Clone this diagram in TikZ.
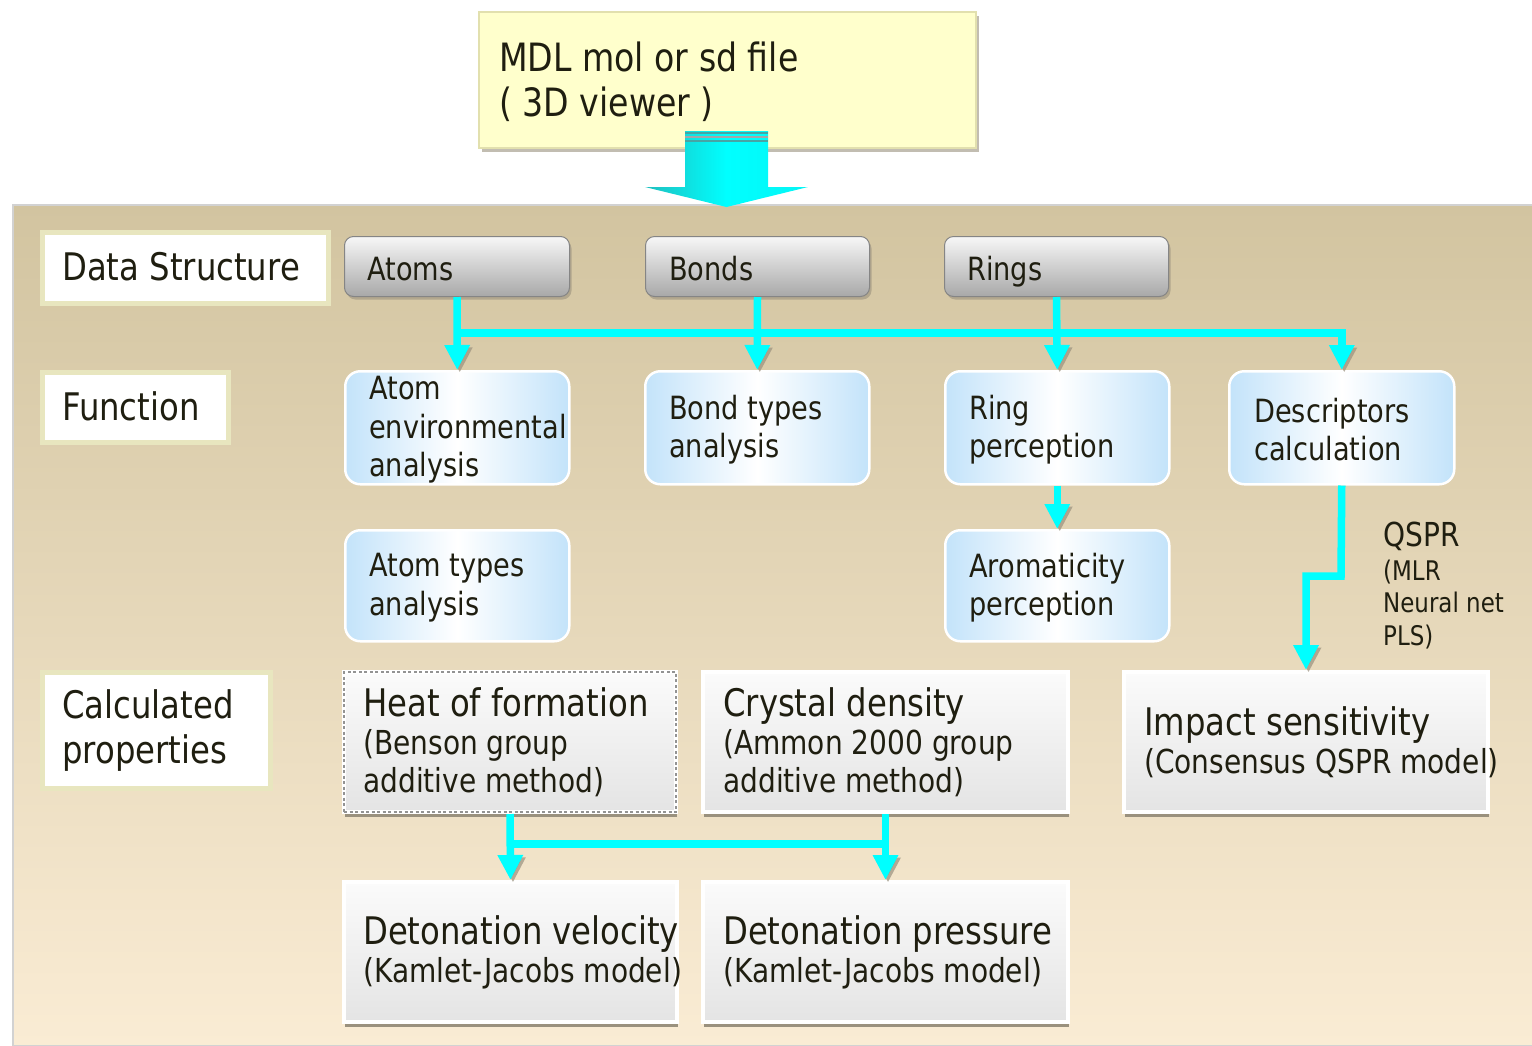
\documentclass[tikz,border=0pt]{standalone}
\usepackage{fontspec}
\setmainfont{DejaVu Sans}[FakeStretch=0.85]
\usetikzlibrary{arrows.meta,shadows,calc}
\definecolor{txt}{HTML}{1F1E10}
\definecolor{cy}{HTML}{00FFFF}
\definecolor{cydark}{HTML}{1FBFBF}
\definecolor{paneltop}{HTML}{D2C4A0}
\definecolor{panelbot}{HTML}{FAECD4}
\definecolor{lblborder}{HTML}{E8E6BF}
\definecolor{mdlfill}{HTML}{FFFFCC}
\definecolor{mdlborder}{HTML}{E2E0AE}
\definecolor{btntop}{HTML}{F7F7F7}
\definecolor{btnbot}{HTML}{A8A8A8}
\definecolor{btnborder}{HTML}{858585}
\definecolor{fnblue}{HTML}{C3E3FA}
\definecolor{proptop}{HTML}{FBFBFB}
\definecolor{propbot}{HTML}{E4E4E4}
\definecolor{shadowc}{HTML}{9A917E}
\newcommand\fs[2]{\fontsize{#1}{#2}\selectfont}
\begin{document}
\begin{tikzpicture}[x=1pt,y=-1pt,
  lbl/.style={draw=lblborder, line width=5pt, fill=white, inner sep=0pt, anchor=north west},
  mdl/.style={draw=mdlborder, line width=2pt, fill=mdlfill, inner sep=0pt, anchor=north west,
    drop shadow={shadow xshift=3pt, shadow yshift=-4pt, fill=shadowc, opacity=.6}},
  btn/.style={draw=btnborder, line width=1pt, rounded corners=9pt, top color=btntop, bottom color=btnbot,
    inner sep=0pt, anchor=north west,
    drop shadow={shadow xshift=2pt, shadow yshift=-3pt, fill=shadowc, opacity=.6}},
  fn/.style={draw=white, line width=2.5pt, rounded corners=15pt, left color=fnblue, right color=fnblue,
    middle color=white, inner sep=0pt, anchor=north west},
  prop/.style={draw=white, line width=4pt, top color=proptop, bottom color=propbot, inner sep=0pt,
    anchor=north west, drop shadow={shadow xshift=0.5pt, shadow yshift=-5pt, fill=shadowc, opacity=1}},
  dashedprop/.style={prop, postaction={draw=gray!85, line width=2pt, dash pattern=on 3pt off 2.5pt}},
  t/.style={text=txt, inner sep=0pt, align=left, anchor=west},
  lt/.style={t, font=\fs{38}{45}},
  bt/.style={t, font=\fs{32}{38}, anchor=base west},
  ft/.style={t, font=\fs{32}{38.5}},
  pt/.style={t, font=\fs{33}{38}},
  cyl/.style={draw=cy, line width=7.5pt,
    preaction={draw=shadowc, opacity=.7, transform canvas={shift={(2.5pt,-2.5pt)}}}},
  cyarrow/.style={cyl, -{Triangle[width=24pt,length=25pt]}}
]
\useasboundingbox (0,0) rectangle (1532,1045);
\fill[white] (0,0) rectangle (1532,1045);

% background panel
\path[draw=gray!35, line width=2pt, top color=paneltop, bottom color=panelbot] (13,205) rectangle (1533,1046);

% source box and big arrow
\node[mdl, minimum width=497pt, minimum height=136pt] (mdl) at (478,11) {};
\node[t, font=\fs{39}{45}] (mdlt) at ($(mdl.west)+(21,2)$) {MDL mol or sd file\\( 3D viewer )};
\path[left color=cydark, right color=cy!85!cydark, middle color=cy]
  (685,131) -- (768,131) -- (768,187) -- (808,187) -- (726.5,207) -- (645,187) -- (685,187) -- cycle;
\draw[cydark!60!gray, line width=1.2pt] (685,133) -- (768,133);
\draw[gray!70, line width=1.2pt] (685,137) -- (768,137);
\draw[cydark!60!gray, line width=1.2pt] (685,141) -- (768,141);

% row labels
\node[lbl, minimum width=286pt, minimum height=71pt] (lds) at (40,230) {};
\node[lt] (ldst) at ($(lds.west)+(22,-1)$) {Data Structure};
\node[lbl, minimum width=186pt, minimum height=70pt] (lfn) at (40,370) {};
\node[lt] (lfnt) at ($(lfn.west)+(22,-1)$) {Function};
\node[lbl, minimum width=228pt, minimum height=116pt] (lcp) at (40,670) {};
\node[lt] (lcpt) at ($(lcp.west)+(22,0)$) {Calculated\\properties};

% data structure buttons
\node[btn, minimum width=225pt, minimum height=60pt] (atoms) at (344,236) {};
\node[bt] (atomst) at ($(atoms.west)+(23,14)$) {Atoms};
\node[btn, minimum width=224pt, minimum height=60pt] (bonds) at (645,236) {};
\node[bt] (bondst) at ($(bonds.west)+(24,14)$) {Bonds};
\node[btn, minimum width=224pt, minimum height=60pt] (rings) at (944,236) {};
\node[bt] (ringst) at ($(rings.west)+(23,14)$) {Rings};

% function boxes
\node[fn, minimum width=224pt, minimum height=113pt] (atomenv) at (344,370) {};
\node[ft] (atomenvt) at ($(atomenv.west)+(25,2)$) {Atom\\environmental\\analysis};
\node[fn, minimum width=224pt, minimum height=113pt] (bondt) at (644,370) {};
\node[ft] (bondtt) at ($(bondt.west)+(25,2)$) {Bond types\\analysis};
\node[fn, minimum width=224pt, minimum height=113pt] (ringp) at (944,370) {};
\node[ft] (ringpt) at ($(ringp.west)+(25,2)$) {Ring\\perception};
\node[fn, minimum width=225pt, minimum height=113pt] (desc) at (1228,370) {};
\node[ft] (desct) at ($(desc.west)+(26,2)$) {Descriptors\\calculation};
\node[fn, minimum width=224pt, minimum height=111pt] (atomt) at (344,529) {};
\node[ft] (atomtt) at ($(atomt.west)+(25,2)$) {Atom types\\analysis};
\node[fn, minimum width=224pt, minimum height=111pt] (arom) at (944,529) {};
\node[ft] (aromt) at ($(arom.west)+(25,2)$) {Aromaticity\\perception};

% property boxes
\node[dashedprop, minimum width=332pt, minimum height=140pt] (heat) at (342,670) {};
\node[pt] (heatt) at ($(heat.west)+(21,0)$) {\fs{38}{41}Heat of formation\\(Benson group\\additive method)};
\node[prop, minimum width=365pt, minimum height=140pt] (cryst) at (701,670) {};
\node[pt] (crystt) at ($(cryst.west)+(22,0)$) {\fs{38}{41}Crystal density\\(Ammon 2000 group\\additive method)};
\node[prop, minimum width=364pt, minimum height=140pt] (impact) at (1122,670) {};
\node[pt] (impactt) at ($(impact.west)+(22,0)$) {\fs{38}{41}Impact sensitivity\\(Consensus QSPR model)};
\node[prop, minimum width=333pt, minimum height=140pt] (detv) at (342,880) {};
\node[pt] (detvt) at ($(detv.west)+(21,0)$) {\fs{38}{41}Detonation velocity\\(Kamlet-Jacobs model)};
\node[prop, minimum width=365pt, minimum height=140pt] (detp) at (701,880) {};
\node[pt] (detpt) at ($(detp.west)+(22,0)$) {\fs{38}{41}Detonation pressure\\(Kamlet-Jacobs model)};

% QSPR note
\node[t, font=\fs{27}{32.5}, anchor=north west] (qspr) at (1383,522) {\fs{33}{36}QSPR\\[1pt](MLR\\Neural net\\PLS)};

% connectors
\coordinate (topbus) at (0,333);
\coordinate (botbus) at (0,844);
\coordinate (jog) at (1341,576);
\draw[cyarrow] (atoms.south |- topbus) -| (desc.north);
\draw[cyarrow] (atoms.south) -- (atomenv.north);
\draw[cyarrow] (bonds.south) -- (bondt.north);
\draw[cyarrow] (rings.south) -- (ringp.north);
\draw[cyarrow] (ringp.south) -- (arom.north);
\draw[cyarrow] (desc.south) -- (jog) -| (impact.north);
\draw[cyl] (heat.south |- botbus) -- (cryst.south |- botbus);
\draw[cyarrow] (heat.south) -- (detv.north);
\draw[cyarrow] (cryst.south) -- (detp.north);
\end{tikzpicture}
\end{document}
